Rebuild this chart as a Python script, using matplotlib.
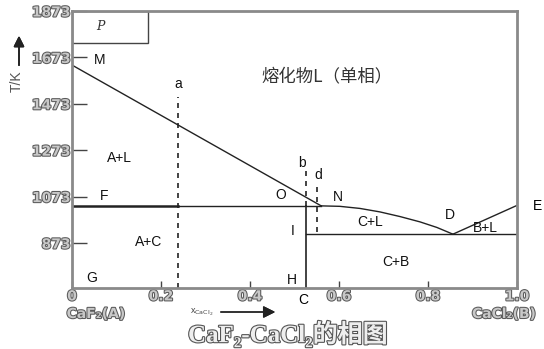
import matplotlib.pyplot as plt
import matplotlib.patheffects as pe
from matplotlib.patches import Rectangle

plt.rcParams['font.family'] = ['Liberation Sans', 'Noto Sans CJK SC', 'DejaVu Sans']

# liquidus of CaF2 side (M -> N), straight
liq_a_x = [0.0, 0.56]
liq_a_t = [1640, 1033]
# liquidus of compound C (N -> D), curved
liq_c_x = [0.56, 0.602, 0.647, 0.692, 0.737, 0.782, 0.820, 0.856]
liq_c_t = [1033, 1031, 1022, 1007, 987, 964, 940, 911]
# liquidus of CaCl2 side (D -> E)
liq_b_x = [0.856, 1.0]
liq_b_t = [911, 1035]

t_peritectic = 1033   # F-O-N line
t_eutectic = 911      # I-D line
x_compound = 0.526    # C, incongruent compound
x_a = 0.238           # dashed isopleth a
x_d = 0.55            # dashed isopleth d
a_top = 1503
b_top = 1196
d_span = (920, 1114)

t_min, t_max = 679, 1873
y_ticks = [873, 1073, 1273, 1473, 1673, 1873]
x_ticks = [0, 0.2, 0.4, 0.6, 0.8, 1.0]
x_ticklabels = ['0', '0.2', '0.4', '0.6', '0.8', '1.0']

# region / point labels: text, x, T
labels = [
    ('M', 0.063, 1662), ('a', 0.238, 1558), ('A+L', 0.106, 1239),
    ('b', 0.517, 1218), ('d', 0.553, 1166), ('F', 0.072, 1076),
    ('O', 0.470, 1080), ('N', 0.598, 1071), ('C+L', 0.670, 964),
    ('D', 0.849, 994), ('B+L', 0.928, 938), ('I', 0.497, 925),
    ('A+C', 0.171, 877), ('C+B', 0.728, 791), ('G', 0.045, 722),
    ('H', 0.494, 714),
]

fig = plt.figure(figsize=(5.44, 3.49), dpi=100)
ax = fig.add_axes([72 / 544, 1 - 288 / 349, 445 / 544, 277 / 349])
ax.set_xlim(0, 1)
ax.set_ylim(t_min, t_max)

lc = '#222222'
ax.plot(liq_a_x, liq_a_t, color=lc, lw=1.0)
ax.plot(liq_c_x, liq_c_t, color=lc, lw=1.0)
ax.plot(liq_b_x, liq_b_t, color=lc, lw=1.0)
ax.plot([0, x_a], [t_peritectic, t_peritectic], color=lc, lw=1.8)
ax.plot([x_a, liq_a_x[1]], [t_peritectic, t_peritectic], color=lc, lw=1.0)
ax.plot([x_compound, 1.0], [t_eutectic, t_eutectic], color=lc, lw=1.0)
ax.plot([x_compound, x_compound], [t_min, t_peritectic], color=lc, lw=1.2)

ax.plot([x_a, x_a], [t_min, a_top], color=lc, lw=1.2, ls=(0, (3, 3)))
ax.plot([x_compound, x_compound], [t_peritectic, b_top], color=lc, lw=1.2, ls=(0, (3, 3)))
ax.plot([x_d, x_d], d_span, color=lc, lw=1.2, ls=(0, (3, 3)))

ax.add_patch(Rectangle((0, 1735), 0.171, t_max - 1735, fill=False,
                       edgecolor='#444444', lw=1.0))
ax.text(0.063, 1805, 'P', fontsize=9, style='italic', family='DejaVu Serif',
        ha='center', va='center', color='#333333')

for txt, x, t in labels:
    ax.text(x, t, txt, fontsize=10, ha='center', va='center', color='#111111')
ax.text(1.045, 1032, 'E', fontsize=10, ha='center', va='center', clip_on=False)
ax.text(0.519, 627, 'C', fontsize=10, ha='center', va='center', clip_on=False)
ax.text(0.572, 1588, '熔化物L（单相）', fontsize=12.5, ha='center', va='center',
        family=['Noto Sans CJK SC', 'DejaVu Sans'], color='#333333')

for side in ax.spines.values():
    side.set_color('#8a8a8a')
    side.set_linewidth(2)

outline = [pe.withStroke(linewidth=1.5, foreground='#5a5a5a')]
ax.set_yticks(y_ticks)
ax.set_yticklabels([str(v) for v in y_ticks])
ax.set_xticks(x_ticks)
ax.set_xticklabels(x_ticklabels)
ax.tick_params(axis='y', direction='in', length=11, width=1, color='#444444', pad=1)
ax.tick_params(axis='x', direction='in', length=5, width=1, color='#444444', pad=1)
for lab in ax.get_xticklabels() + ax.get_yticklabels():
    lab.set_fontsize(10)
    lab.set_fontweight('bold')
    lab.set_family('DejaVu Sans')
    lab.set_color('#c8c8c8')
    lab.set_path_effects(outline)

# composition end-members and axis captions
for txt, px in [('CaF₂(A)', 96), ('CaCl₂(B)', 504)]:
    fig.text(px / 544, 1 - 314 / 349, txt, fontsize=10, fontweight='bold',
             ha='center', va='center', color='#c8c8c8', path_effects=outline,
             family=['DejaVu Sans'])
fig.text(202 / 544, 1 - 312 / 349, 'x$_{\\rm CaCl_2}$', fontsize=6.5,
         ha='center', va='center', color='#444444')
fig.add_artist(plt.annotate('', xy=(278 / 544, 1 - 312 / 349),
                            xytext=(218 / 544, 1 - 312 / 349),
                            xycoords='figure fraction',
                            arrowprops=dict(arrowstyle='-|>', color='#222222',
                                            lw=1.0, mutation_scale=18)))
fig.add_artist(plt.annotate('', xy=(19 / 544, 1 - 33 / 349),
                            xytext=(19 / 544, 1 - 68 / 349),
                            xycoords='figure fraction',
                            arrowprops=dict(arrowstyle='-|>', color='#222222',
                                            lw=1.2, mutation_scale=16)))
fig.text(17 / 544, 1 - 81 / 349, 'T/K', rotation=90, fontsize=10,
         ha='center', va='center', color='#555555')

fig.text(288 / 544, 1 - 334 / 349, 'CaF₂-CaCl₂的相图', fontsize=18,
         fontweight='bold', ha='center', va='center', color='#eeeeee',
         family=['Liberation Serif', 'Noto Sans CJK SC', 'DejaVu Serif'],
         path_effects=[pe.withStroke(linewidth=1.6, foreground='#555555')])

fig.savefig('out.png', dpi=100)
